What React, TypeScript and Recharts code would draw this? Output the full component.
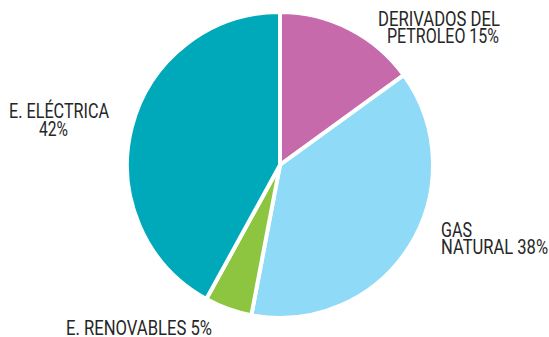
import { PieChart, Pie, Cell } from "recharts";

const SOURCES = ["DERIVADOS DEL PETROLEO", "GAS NATURAL", "E. RENOVABLES", "E. ELÉCTRICA"];
const SHARES = [15, 38, 5, 42];
const COLORS = ["#C76AAB", "#8FDAF6", "#8DC540", "#00A9BA"];

// label lines per slice, as printed on the chart
const LABEL_LINES = [
  ["DERIVADOS DEL", "PETROLEO 15%"],
  ["GAS", "NATURAL 38%"],
  ["E. RENOVABLES 5%"],
  ["E. ELÉCTRICA", "42%"],
];

// condensed type: each line's left x, baseline y and printed width
const LINE_LAYOUT = [
  [
    { x: 378, y: 26, w: 122 },
    { x: 387, y: 43, w: 112 },
  ],
  [
    { x: 441, y: 237, w: 31 },
    { x: 441, y: 254, w: 107 },
  ],
  [{ x: 66, y: 335, w: 146 }],
  [
    { x: 9, y: 118, w: 100 },
    { x: 39, y: 136, w: 29 },
  ],
];

const data = SOURCES.map((name, i) => ({ name, value: SHARES[i] }));

function renderLabel(props: any) {
  const i = props.index;
  return (
    <g key={`lbl-${i}`}>
      {LABEL_LINES[i].map((line, j) => {
        const p = LINE_LAYOUT[i][j];
        return (
          <text
            key={j}
            x={p.x}
            y={p.y}
            textLength={p.w}
            lengthAdjust="spacingAndGlyphs"
            fill="#262626"
            fontFamily="Roboto, 'Noto Sans', sans-serif"
            fontSize={19.5}
          >
            {line}
          </text>
        );
      })}
    </g>
  );
}

export default function App() {
  return (
    <div style={{ position: "absolute", left: 0, top: 0, width: 549, height: 337, background: "#fff" }}>
      <PieChart width={549} height={337} margin={{ top: 0, right: 0, bottom: 0, left: 0 }}>
        <Pie
          data={data}
          dataKey="value"
          nameKey="name"
          cx={280}
          cy={165}
          outerRadius={153}
          startAngle={90}
          endAngle={-270}
          stroke="#ffffff"
          strokeWidth={4}
          label={renderLabel}
          labelLine={false}
          isAnimationActive={false}
        >
          {data.map((_, i) => (
            <Cell key={i} fill={COLORS[i]} />
          ))}
        </Pie>
      </PieChart>
    </div>
  );
}
